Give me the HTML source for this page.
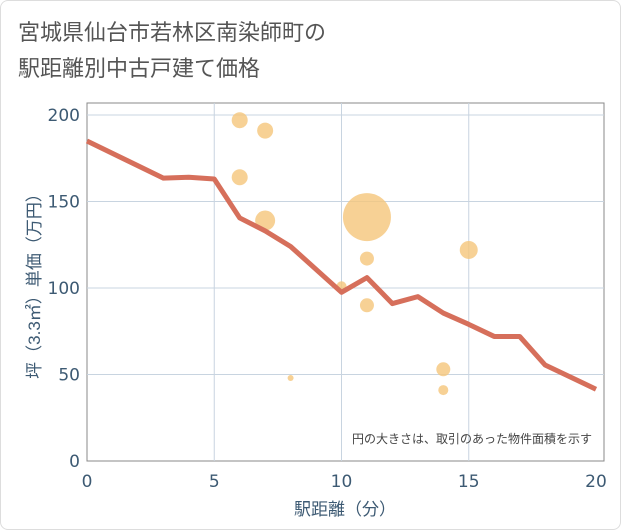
<!DOCTYPE html>
<html><head><meta charset="utf-8"><style>
body{margin:0;background:#fff;}
#card{position:absolute;left:0;top:0;width:619px;height:528px;border:1px solid #ddd;border-radius:8px;background:#fff;}
text{font-family:"Liberation Sans","Noto Sans CJK JP",sans-serif;}
.tk{font-family:"DejaVu Sans",sans-serif;}
</style></head><body>
<div id="card"></div>
<svg id="chart" width="621" height="530" style="position:absolute;left:0;top:0">
<text x="18" y="40" font-size="22" fill="#555">宮城県仙台市若林区南染師町の</text>
<text x="18" y="76" font-size="22" fill="#555">駅距離別中古戸建て価格</text>
<rect x="87" y="103" width="517" height="358" fill="#fff" stroke="#888"/>
<g id="grid"></g>
<g id="bubbles"></g>
<g id="line"></g>
<g id="ticks"></g>
<text x="592" y="443" font-size="12" fill="#444" text-anchor="end">円の大きさは、取引のあった物件面積を示す</text>
<text x="345" y="515" font-size="17" fill="#3d5a73" text-anchor="middle">駅距離（分）</text>
<text transform="translate(40,282) rotate(-90)" font-size="17" fill="#3d5a73" text-anchor="middle">坪（3.3㎡）単価（万円）</text>
</svg>
<script>
const xTicks=[0,5,10,15,20];
const yTicks=[0,50,100,150,200];
const lineX=[0,3,4,5,6,7,8,10,11,12,13,14,15,16,17,18,20];
const lineY=[185,163.5,164,163,140.5,133,124,97.5,106,91,95,85.5,79,72,72,55.5,41.5];
const bubX=[6,7,6,7,11,11,15,10,11,8,14,14];
const bubY=[197,191,164,139,141,117,122,101,90,48,53,41];
const bubR=[8,8,8,10,24,7,9,5,7,3,7,5];
const sx=v=>87+v*25.45, sy=v=>461-v*1.73;
const NS="http://www.w3.org/2000/svg";
function mk(t,a,p){const e=document.createElementNS(NS,t);for(const k in a)e.setAttribute(k,a[k]);p.appendChild(e);return e;}
const g=document.getElementById('grid'),tk=document.getElementById('ticks');
xTicks.forEach(v=>{
 if(v>0&&v<20){const l=mk('line',{x1:sx(v),x2:sx(v),y1:103,y2:461,stroke:'#c8d4e0'},g);
 
 }
 const t=mk('text',{x:sx(v),y:487,'font-size':17,fill:'#3d5a73','text-anchor':'middle','class':'tk'},tk);t.textContent=v;
 
 
});
yTicks.forEach(v=>{
 if(v>0){const l=mk('line',{x1:87,x2:604,y1:sy(v),y2:sy(v),stroke:'#c8d4e0'},g);
 
 }
 const t=mk('text',{x:80,y:sy(v)+6,'font-size':17,fill:'#3d5a73','text-anchor':'end','class':'tk'},tk);t.textContent=v;
 
 
});
const b=document.getElementById('bubbles');
bubX.forEach((x,i)=>{const c=mk('circle',{cx:sx(x),cy:sy(bubY[i]),r:bubR[i],fill:'#f5c57a','fill-opacity':0.8},b);
 
 });
const p=mk('polyline',{points:lineX.map((x,i)=>sx(x)+','+sy(lineY[i])).join(' '),fill:'none',stroke:'#d66f5b','stroke-width':5,'stroke-linejoin':'round'},document.getElementById('line'));


</script>
</body></html>
